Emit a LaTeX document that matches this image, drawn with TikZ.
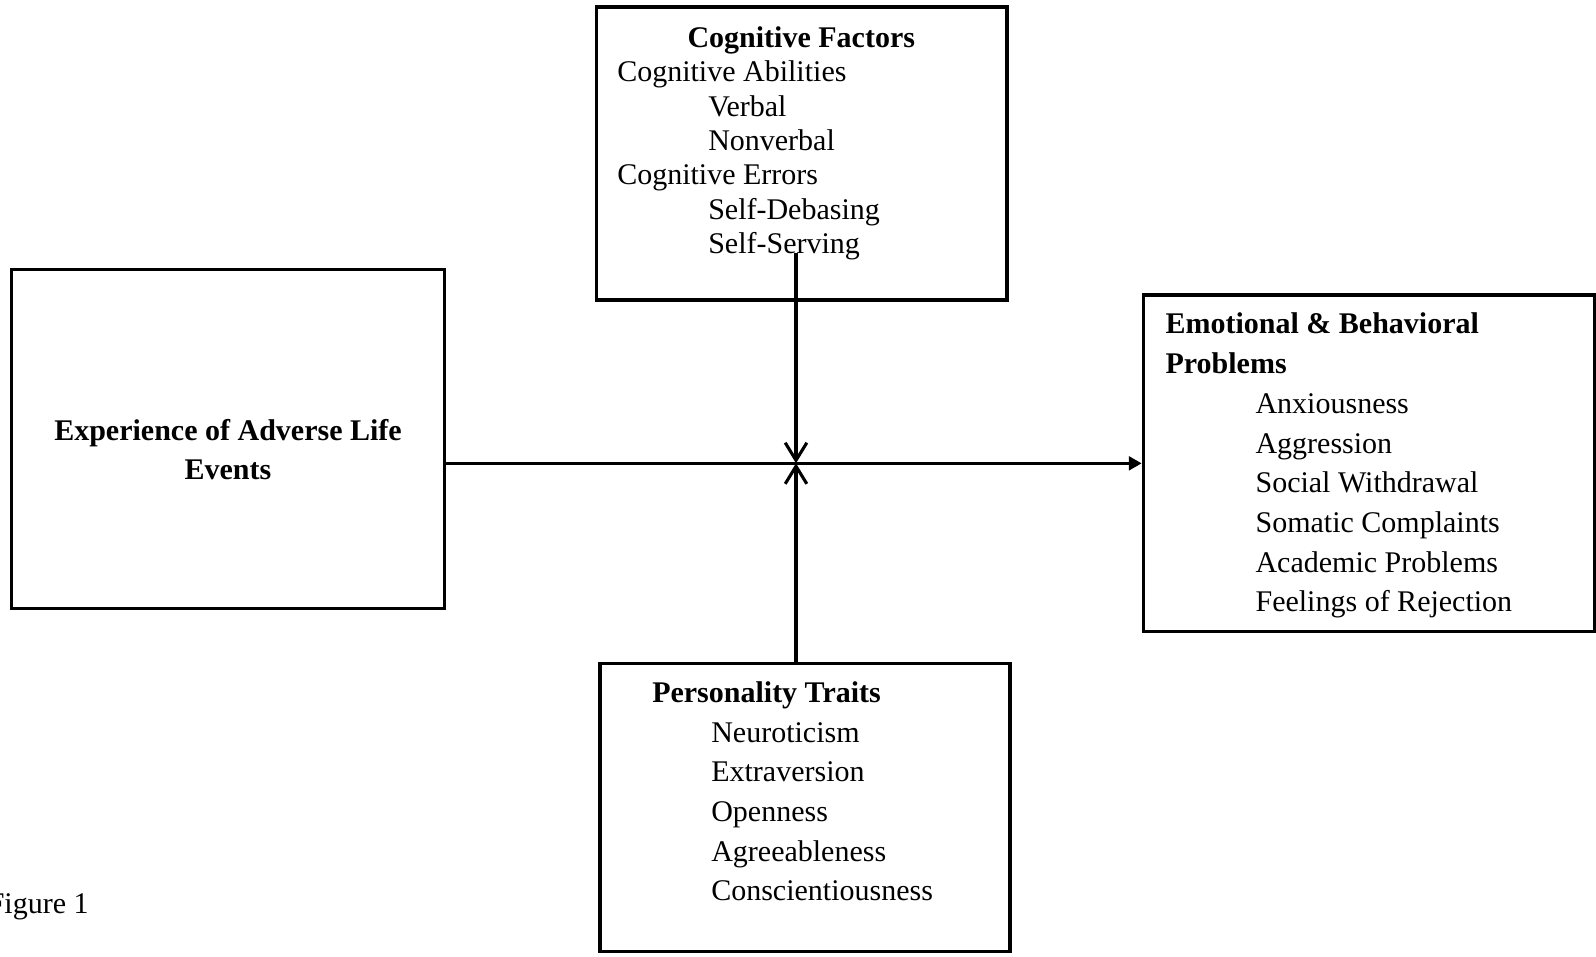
\documentclass[tikz,border=0pt]{standalone}
\usepackage{fontspec}
\setmainfont{Liberation Serif}
\usetikzlibrary{arrows.meta,positioning,calc}

\begin{document}
\begin{tikzpicture}[
    box/.style={draw, line width=1.1pt, rectangle, inner sep=0pt},
    item/.style={anchor=base west, inner sep=0pt, font=\fontsize{10.67pt}{14.11pt}\selectfont},
    head/.style={item, font=\fontsize{10.67pt}{14.11pt}\selectfont\bfseries},
    link/.style={line width=1.1pt}]
    \useasboundingbox (0,0) rectangle (19.95,11.95);
    % boxes
    \node[box, minimum width=5.42cm, minimum height=4.238cm] (adverse) at (2.85,6.46) {};
    \node[box, minimum width=5.13cm, minimum height=3.6625cm] (cogn) at (10.022,10.031) {};
    \node[box, minimum width=5.64cm, minimum height=4.209cm] (emo) at (17.11,6.158) {};
    \node[box, minimum width=5.125cm, minimum height=3.605cm] (pers) at (10.0625,1.856) {};
    % predictor
    \node[head, anchor=center, align=center] (adverse-txt) at (2.85,6.33)
      {Experience of Adverse Life\\ Events};
    % cognitive factors
    \node[head, anchor=base] (cogn-head) at (10.016,11.36) {Cognitive Factors};
    \foreach \t/\x [count=\i] in {Cognitive Abilities/7.709, Verbal/8.846, Nonverbal/8.846,
        Cognitive Errors/7.709, Self-Debasing/8.846, Self-Serving/8.846}{
      \node[item] (cogn-\i) at (\x,{11.36-\i*0.4305}) {\t};
    }
    % outcomes
    \node[head, align=left] (emo-head) at (14.5625,7.28) {Emotional \& Behavioral\\ Problems};
    \foreach \t [count=\i] in {Anxiousness, Aggression, Social Withdrawal,
        Somatic Complaints, Academic Problems, Feelings of Rejection}{
      \node[item] (emo-\i) at (15.6875,{7.775-(\i+1)*0.49625}) {\t};
    }
    % personality
    \node[head] (pers-head) at (8.146,3.17) {Personality Traits};
    \foreach \t [count=\i] in {Neuroticism, Extraversion, Openness,
        Agreeableness, Conscientiousness}{
      \node[item] (pers-\i) at (8.884,{3.17-\i*0.4958}) {\t};
    }
    % connectors
    \coordinate (hub) at (9.95,6.159);
    \coordinate (cogn-foot) at (9.95,8.7875);
    \draw[link, -{Triangle[length=0.16cm,width=0.17cm]}] (adverse.east |- emo.west) -- (emo.west);
    \draw[link, -{Straight Barb[length=0.22cm,width=0.27cm]}] (cogn-foot) -- (hub);
    \draw[link, -{Straight Barb[length=0.22cm,width=0.27cm]}] (pers.north -| hub) -- (hub);
    % caption
    \node[item] (fig-label) at (-0.16,0.53) {Figure 1};
\end{tikzpicture}
\end{document}
